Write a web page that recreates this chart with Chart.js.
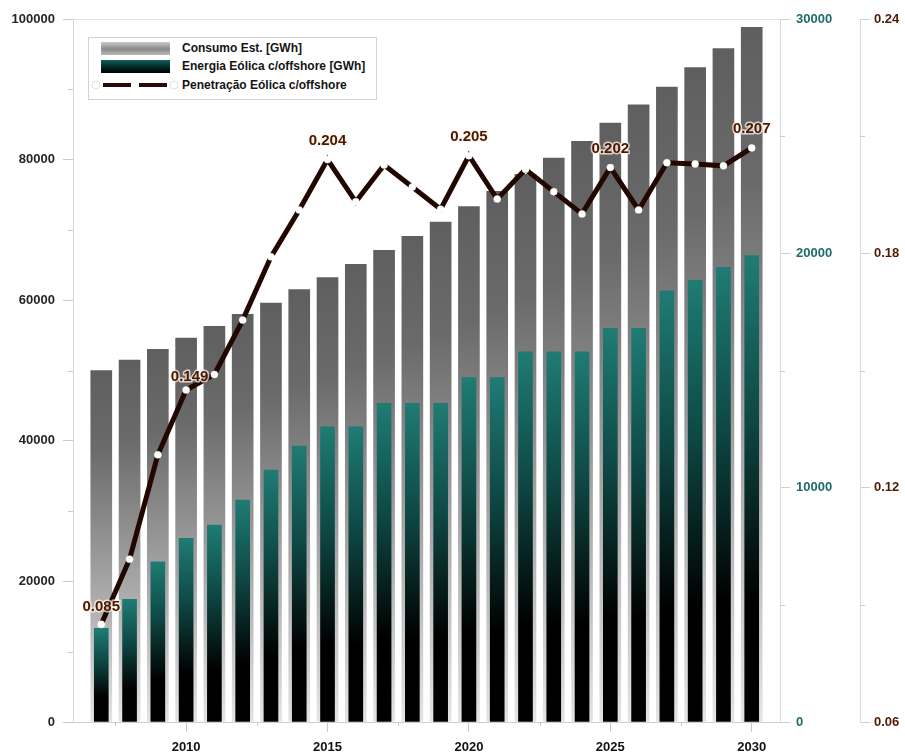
<!DOCTYPE html>
<html>
<head>
<meta charset="utf-8">
<script src="https://cdn.jsdelivr.net/npm/chart.js@4/dist/chart.umd.min.js"></script>
<style>
  html, body { margin: 0; padding: 0; background: #fff; }
  #wrap { position: relative; width: 905px; height: 756px; }
  #legend {
    position: absolute; left: 88px; top: 37px; width: 289px; height: 63px;
    box-sizing: border-box; border: 1px solid #d2d2d2; background: #fff;
    font: bold 12px "Liberation Sans", Arial, sans-serif; color: #141414;
  }
  #legend .sw { position: absolute; left: 12px; width: 69px; height: 13px; }
  #legend .t { position: absolute; left: 93px; line-height: 14px; white-space: nowrap; }
</style>
</head>
<body>
<div id="wrap">
  <canvas id="chart" width="905" height="756"></canvas>
  <div id="legend">
    <div class="sw" style="top:4px;background:linear-gradient(#c9c9c9,#8a8a8a 55%,#b9b9b9);"></div>
    <div class="t" style="top:3px;">Consumo Est. [GWh]</div>
    <div class="sw" style="top:22px;background:linear-gradient(#11625c,#032220 60%,#000);"></div>
    <div class="t" style="top:21px;">Energia Eólica c/offshore [GWh]</div>
    <svg width="92" height="12" style="position:absolute;left:0;top:41px;">
      <line x1="14" y1="6" x2="42" y2="6" stroke="#2a0805" stroke-width="4"/>
      <line x1="50" y1="6" x2="78" y2="6" stroke="#2a0805" stroke-width="4"/>
      <circle cx="7" cy="6" r="4" fill="#fff" stroke="#e2e2e2" stroke-width="1"/>
      <circle cx="85" cy="6" r="4" fill="#fff" stroke="#e2e2e2" stroke-width="1"/>
    </svg>
    <div class="t" style="top:40px;">Penetração Eólica c/offshore</div>
  </div>
</div>
<script>
// Years on the horizontal axis
const years = [2007, 2008, 2009, 2010, 2011, 2012, 2013, 2014, 2015, 2016, 2017, 2018,
               2019, 2020, 2021, 2022, 2023, 2024, 2025, 2026, 2027, 2028, 2029, 2030];

// Estimated consumption [GWh] (left axis)
const consumo = [50000, 51500, 53000, 54600, 56300, 58000, 59600, 61500, 63200, 65100, 67100, 69100,
                 71100, 73300, 75500, 77900, 80200, 82600, 85200, 87800, 90300, 93100, 95800, 98800];

// Wind energy incl. offshore [GWh] (middle axis)
const eolica = [4000, 5240, 6840, 7840, 8400, 9470, 10750, 11780, 12600, 12600, 13600, 13600,
                13600, 14700, 14700, 15800, 15800, 15800, 16800, 16800, 18400, 18850, 19400, 19900];

// Wind penetration incl. offshore (right axis)
const penetracao = [0.085, 0.1017, 0.1284, 0.145, 0.149, 0.1629, 0.1791, 0.1911, 0.204, 0.1932, 0.2026, 0.1970,
                    0.1913, 0.205, 0.1939, 0.2015, 0.1958, 0.1901, 0.202, 0.1911, 0.2032, 0.2029, 0.2024, 0.207];

// Years whose penetration value is written next to the point
const labelledYears = [2007, 2011, 2015, 2020, 2025, 2030];

// Axis ticks
const xTicks = [2010, 2015, 2020, 2025, 2030];
const xMinorTicks = [2007.5, 2012.5, 2017.5, 2022.5, 2027.5];
const yTicks = [0, 20000, 40000, 60000, 80000, 100000];
const yMinorTicks = [10000, 30000, 50000, 70000, 90000];
const y1Ticks = [0, 10000, 20000, 30000];
const y1MinorTicks = [5000, 15000, 25000];
const y2Ticks = [0.06, 0.12, 0.18, 0.24];
const y2MinorTicks = [0.09, 0.15, 0.21];

const FONT = '"Liberation Sans", Arial, Helvetica, sans-serif';
const tickFont = { family: FONT, size: 13, weight: 'bold' };

// Vertical gradient spanning a single bar, from its top down to the baseline
function barGradient(stops, axisId) {
  return (ctx) => {
    const chart = ctx.chart;
    if (!chart.chartArea || ctx.type !== 'data' || !ctx.parsed) return stops[0][1];
    const sc = chart.scales[axisId];
    const top = sc.getPixelForValue(ctx.parsed.y);
    const base = sc.getPixelForValue(0);
    if (!isFinite(top) || !isFinite(base) || top === base) return stops[0][1];
    const g = chart.ctx.createLinearGradient(0, top, 0, base);
    stops.forEach(([o, c]) => g.addColorStop(o, c));
    return g;
  };
}

const grayStops = [[0, '#5f5f5f'], [0.22, '#6a6a6a'], [0.6, '#a4a4a4'], [1, '#e4e4e4']];
const tealStops = [[0, '#1f7c74'], [0.35, '#0e4844'], [0.74, '#000000'], [1, '#000000']];

const fixedTicks = (list) => (scale) => { scale.ticks = list.map(v => ({ value: v })); };

// Minor tick marks, top frame line and point value labels
const decor = {
  id: 'decor',
  afterDatasetsDraw(chart) {
    const ctx = chart.ctx;
    const meta = chart.getDatasetMeta(0);
    ctx.save();
    ctx.font = 'bold 15px ' + FONT;
    ctx.textBaseline = 'middle';
    labelledYears.forEach((yr) => {
      const i = years.indexOf(yr);
      const pt = meta.data[i];
      const txt = penetracao[i].toFixed(3);
      let x = pt.x, y = pt.y - 19, align = 'center';
      if (yr === 2011) { x = pt.x - 6; y = pt.y + 2; align = 'right'; }
      if (yr === 2007) { y = pt.y - 18; }
      ctx.textAlign = align;
      ctx.lineJoin = 'round';
      ctx.lineWidth = 3;
      ctx.strokeStyle = 'rgba(255,244,232,0.75)';
      ctx.strokeText(txt, x, y);
      ctx.fillStyle = '#4a1805';
      ctx.fillText(txt, x, y);
    });
    ctx.restore();
  },
  afterDraw(chart) {
    const ctx = chart.ctx;
    const a = chart.chartArea;
    const s = chart.scales;
    ctx.save();
    ctx.strokeStyle = '#c9c9c9';
    ctx.lineWidth = 1;
    ctx.beginPath();
    xMinorTicks.forEach(v => { const x = Math.round(s.x.getPixelForValue(v)) + 0.5; ctx.moveTo(x, a.bottom); ctx.lineTo(x, a.bottom + 4); });
    yMinorTicks.forEach(v => { const y = Math.round(s.y.getPixelForValue(v)) + 0.5; ctx.moveTo(s.y.right, y); ctx.lineTo(s.y.right - 5, y); });
    y1MinorTicks.forEach(v => { const y = Math.round(s.y1.getPixelForValue(v)) + 0.5; ctx.moveTo(s.y1.left, y); ctx.lineTo(s.y1.left + 5, y); });
    y2MinorTicks.forEach(v => { const y = Math.round(s.y2.getPixelForValue(v)) + 0.5; ctx.moveTo(s.y2.left, y); ctx.lineTo(s.y2.left + 5, y); });
    ctx.stroke();
    ctx.strokeStyle = '#e4e4e4';
    ctx.beginPath();
    ctx.moveTo(a.left, a.top + 0.5);
    ctx.lineTo(a.right, a.top + 0.5);
    ctx.stroke();
    ctx.restore();
  }
};

new Chart(document.getElementById('chart'), {
  type: 'bar',
  data: {
    datasets: [
      {
        type: 'line',
        label: 'Penetração Eólica c/offshore',
        data: years.map((yr, i) => ({ x: yr, y: penetracao[i] })),
        yAxisID: 'y2',
        order: 0,
        borderColor: '#220700',
        borderWidth: 5,
        tension: 0,
        pointRadius: 3.5,
        pointBackgroundColor: '#ffffff',
        pointBorderColor: '#ffffff',
        pointBorderWidth: 0.5
      },
      {
        label: 'Energia Eólica c/offshore [GWh]',
        data: years.map((yr, i) => ({ x: yr, y: eolica[i] })),
        yAxisID: 'y1',
        order: 1,
        grouped: false,
        barThickness: 14,
        backgroundColor: barGradient(tealStops, 'y1')
      },
      {
        label: 'Consumo Est. [GWh]',
        data: years.map((yr, i) => ({ x: yr, y: consumo[i] })),
        yAxisID: 'y',
        order: 2,
        grouped: false,
        barThickness: 21,
        backgroundColor: barGradient(grayStops, 'y')
      }
    ]
  },
  options: {
    responsive: false,
    animation: false,
    layout: { padding: { top: 19, left: 0, right: 0, bottom: 0 } },
    plugins: { legend: { display: false }, tooltip: { enabled: false } },
    scales: {
      x: {
        type: 'linear',
        min: 2006, max: 2031,
        offset: false,
        afterBuildTicks: fixedTicks(xTicks),
        afterFit: (sc) => { sc.height = 34; },
        grid: { offset: false, drawOnChartArea: false, tickLength: 10, color: '#c9c9c9' },
        border: { color: '#cfcfcf' },
        ticks: { padding: 8, color: '#111', font: tickFont, maxRotation: 0, callback: (v) => String(v) }
      },
      y: {
        position: 'left',
        min: 0, max: 100000,
        afterBuildTicks: fixedTicks(yTicks),
        afterFit: (sc) => { sc.width = 73; },
        grid: { drawOnChartArea: false, tickLength: 10, color: '#c9c9c9' },
        border: { color: '#d6d6d6' },
        ticks: { padding: 8, color: '#262626', font: tickFont, callback: (v) => String(v) }
      },
      y1: {
        position: 'right',
        weight: 0,
        min: 0, max: 30000,
        afterBuildTicks: fixedTicks(y1Ticks),
        afterFit: (sc) => { sc.width = 80; },
        grid: { drawOnChartArea: false, tickLength: 10, color: '#c9d2d2' },
        border: { color: '#d2dada' },
        ticks: { padding: 6, color: '#1f6d6a', font: tickFont, callback: (v) => String(v) }
      },
      y2: {
        position: 'right',
        weight: 1,
        min: 0.06, max: 0.24,
        afterBuildTicks: fixedTicks(y2Ticks),
        afterFit: (sc) => { sc.width = 45; },
        grid: { drawOnChartArea: false, tickLength: 10, color: '#cfcfcf' },
        border: { color: '#d8d8d8' },
        ticks: { padding: 4, color: '#4f1a05', font: tickFont, callback: (v) => v.toFixed(2) }
      }
    }
  },
  plugins: [decor]
});
</script>
</body>
</html>
